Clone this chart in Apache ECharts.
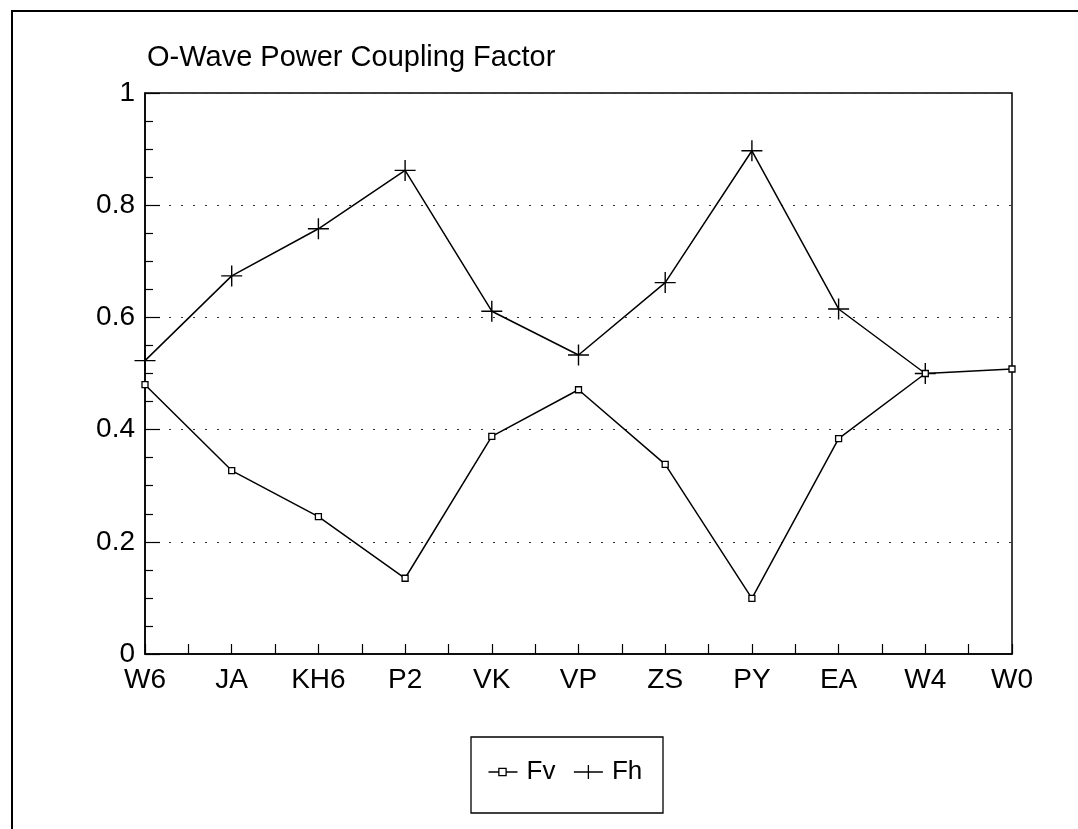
<!DOCTYPE html>
<html>
<head>
<meta charset="utf-8">
<title>O-Wave Power Coupling Factor</title>
<script src="https://cdn.jsdelivr.net/npm/echarts@6/dist/echarts.min.js"></script>
<style>
  html, body { margin: 0; padding: 0; background: #fff; }
  #chart { width: 1078px; height: 829px; }
</style>
</head>
<body>
<div id="chart"></div>
<script>
// Stations along the horizontal axis
const categories = ['W6', 'JA', 'KH6', 'P2', 'VK', 'VP', 'ZS', 'PY', 'EA', 'W4', 'W0'];
// Vertical coupling factor
const fvValues = [0.48, 0.327, 0.245, 0.135, 0.388, 0.471, 0.338, 0.099, 0.384, 0.50, 0.508];
// Horizontal coupling factor (no value at W0)
const fhValues = [0.523, 0.674, 0.758, 0.862, 0.611, 0.533, 0.662, 0.897, 0.615, 0.50, null];
// Value axis range and step
const yMin = 0;
const yMax = 1;
const yStep = 0.2;

const FONT = '"Liberation Sans", Arial, Helvetica, sans-serif';

// Marker and legend shapes
const plusSymbol = 'path://M0,-10 L0,10 M-10,0 L10,0';
const fvLegendIcon = 'path://M0,4 L10,4 M17,4 L28,4 M10,0.5 L17,0.5 L17,7.5 L10,7.5 Z';
const fhLegendIcon = 'path://M0,7 L29,7 M14.5,0 L14.5,14';

const chart = echarts.init(document.getElementById('chart'), null, { renderer: 'canvas' });

chart.setOption({
  animation: false,
  backgroundColor: '#fff',
  title: {
    text: 'O-Wave Power Coupling Factor',
    left: 147,
    top: 43,
    padding: 0,
    textStyle: { fontFamily: FONT, fontSize: 29, fontWeight: 'normal', color: '#000' }
  },
  graphic: [
    {
      type: 'rect',
      shape: { x: 12, y: 11, width: 1200, height: 1000 },
      style: { fill: 'none', stroke: '#000', lineWidth: 2 },
      silent: true
    },
    {
      type: 'rect',
      shape: { x: 471, y: 737, width: 192, height: 76 },
      style: { fill: 'none', stroke: '#000', lineWidth: 1.3 },
      silent: true
    }
  ],
  legend: {
    left: 486,
    top: 759,
    padding: 0,
    itemWidth: 29,
    itemHeight: 14,
    itemGap: 16,
    selectedMode: false,
    textStyle: { fontFamily: FONT, fontSize: 26, color: '#000', padding: [0, 0, 0, 4] },
    data: [
      { name: 'Fv', icon: fvLegendIcon, itemStyle: { color: 'none', borderColor: '#000', borderWidth: 1.3 } },
      { name: 'Fh', icon: fhLegendIcon, itemStyle: { color: 'none', borderColor: '#000', borderWidth: 1.3 } }
    ]
  },
  grid: {
    left: 145,
    right: 66,
    top: 93,
    bottom: 175,
    show: true,
    borderColor: '#000',
    borderWidth: 1.5,
    backgroundColor: 'transparent'
  },
  xAxis: [
    {
      type: 'category',
      data: categories,
      boundaryGap: false,
      position: 'bottom',
      axisLine: { show: true, lineStyle: { color: '#000', width: 1.5 } },
      axisTick: { show: false },
      axisLabel: { fontFamily: FONT, fontSize: 28, color: '#000', margin: 12, interval: 0 },
      splitLine: { show: false }
    },
    {
      // half-step tick marks along the bottom edge
      type: 'value',
      min: 0,
      max: (categories.length - 1) * 2,
      interval: 1,
      position: 'bottom',
      axisLine: { show: false },
      axisTick: { show: true, inside: true, length: 10, lineStyle: { color: '#000', width: 1.2 } },
      axisLabel: { show: false },
      splitLine: { show: false }
    }
  ],
  yAxis: {
    type: 'value',
    min: yMin,
    max: yMax,
    interval: yStep,
    axisLine: { show: true, lineStyle: { color: '#000', width: 1.5 } },
    axisTick: { show: true, inside: true, length: 15, lineStyle: { color: '#000', width: 1.2 } },
    minorTick: { show: true, splitNumber: 4, length: 8, lineStyle: { color: '#000', width: 1.2 } },
    axisLabel: { fontFamily: FONT, fontSize: 28, color: '#000', margin: 10 },
    splitLine: { show: true, lineStyle: { color: '#333', width: 1, type: [2, 10] } }
  },
  series: [
    {
      name: 'Fv',
      type: 'line',
      xAxisIndex: 0,
      data: fvValues,
      symbol: 'rect',
      symbolSize: 6,
      showSymbol: true,
      lineStyle: { color: '#000', width: 1.5 },
      itemStyle: { color: '#fff', borderColor: '#000', borderWidth: 1.3 },
      emphasis: { disabled: true },
      z: 3
    },
    {
      name: 'Fh',
      type: 'line',
      xAxisIndex: 0,
      data: fhValues,
      symbol: plusSymbol,
      symbolSize: 21,
      showSymbol: true,
      lineStyle: { color: '#000', width: 1.5 },
      itemStyle: { color: 'none', borderColor: '#000', borderWidth: 1.4 },
      emphasis: { disabled: true },
      z: 2
    }
  ]
});
</script>
</body>
</html>
